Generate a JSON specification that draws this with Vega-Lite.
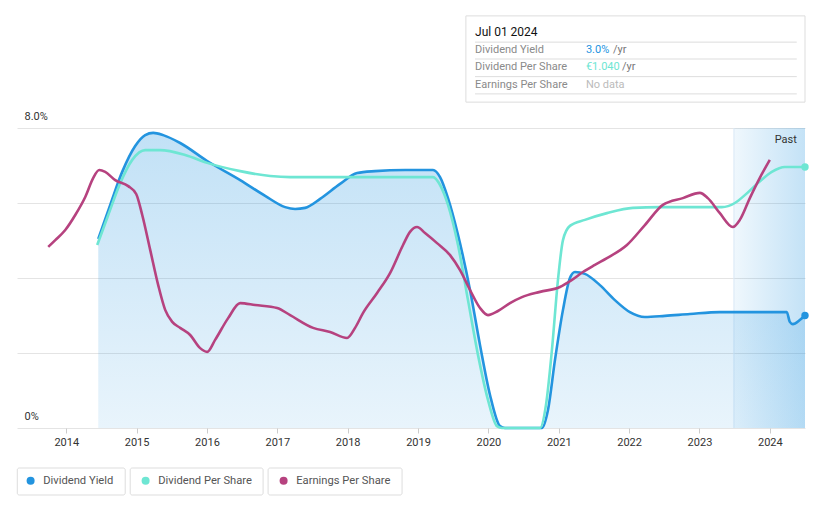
{
  "$schema": "https://vega.github.io/schema/vega-lite/v6.json",
  "width": 788,
  "height": 300,
  "autosize": {"type": "none"},
  "padding": {"left": 17, "top": 128, "right": 16, "bottom": 80},
  "background": "white",
  "config": {
    "font": "Roboto",
    "view": {"stroke": null},
    "axis": {"labelFont": "Roboto", "titleFont": "Roboto"},
    "legend": {"labelFont": "Roboto"}
  },
  "datasets": {
    "series": [
      {"s": "Dividend Yield", "year": 2014.455, "value": 5.04},
      {"s": "Dividend Yield", "year": 2014.625, "value": 5.95},
      {"s": "Dividend Yield", "year": 2014.795, "value": 6.83},
      {"s": "Dividend Yield", "year": 2014.98, "value": 7.52},
      {"s": "Dividend Yield", "year": 2015.122, "value": 7.81},
      {"s": "Dividend Yield", "year": 2015.236, "value": 7.87},
      {"s": "Dividend Yield", "year": 2015.378, "value": 7.81},
      {"s": "Dividend Yield", "year": 2015.619, "value": 7.6},
      {"s": "Dividend Yield", "year": 2016.003, "value": 7.12},
      {"s": "Dividend Yield", "year": 2016.472, "value": 6.61},
      {"s": "Dividend Yield", "year": 2016.827, "value": 6.19},
      {"s": "Dividend Yield", "year": 2017.111, "value": 5.89},
      {"s": "Dividend Yield", "year": 2017.253, "value": 5.84},
      {"s": "Dividend Yield", "year": 2017.395, "value": 5.87},
      {"s": "Dividend Yield", "year": 2017.608, "value": 6.11},
      {"s": "Dividend Yield", "year": 2017.892, "value": 6.51},
      {"s": "Dividend Yield", "year": 2018.134, "value": 6.8},
      {"s": "Dividend Yield", "year": 2018.389, "value": 6.85},
      {"s": "Dividend Yield", "year": 2018.815, "value": 6.88},
      {"s": "Dividend Yield", "year": 2019.213, "value": 6.88},
      {"s": "Dividend Yield", "year": 2019.313, "value": 6.69},
      {"s": "Dividend Yield", "year": 2019.426, "value": 6.13},
      {"s": "Dividend Yield", "year": 2019.568, "value": 5.15},
      {"s": "Dividend Yield", "year": 2019.739, "value": 3.68},
      {"s": "Dividend Yield", "year": 2019.881, "value": 2.21},
      {"s": "Dividend Yield", "year": 2020.023, "value": 0.88},
      {"s": "Dividend Yield", "year": 2020.165, "value": 0.05},
      {"s": "Dividend Yield", "year": 2020.236, "value": 0},
      {"s": "Dividend Yield", "year": 2020.761, "value": 0},
      {"s": "Dividend Yield", "year": 2020.847, "value": 0.48},
      {"s": "Dividend Yield", "year": 2020.946, "value": 1.81},
      {"s": "Dividend Yield", "year": 2021.06, "value": 3.15},
      {"s": "Dividend Yield", "year": 2021.159, "value": 4.0},
      {"s": "Dividend Yield", "year": 2021.23, "value": 4.16},
      {"s": "Dividend Yield", "year": 2021.372, "value": 4.11},
      {"s": "Dividend Yield", "year": 2021.585, "value": 3.81},
      {"s": "Dividend Yield", "year": 2021.798, "value": 3.41},
      {"s": "Dividend Yield", "year": 2022.011, "value": 3.09},
      {"s": "Dividend Yield", "year": 2022.224, "value": 2.96},
      {"s": "Dividend Yield", "year": 2022.509, "value": 2.99},
      {"s": "Dividend Yield", "year": 2022.864, "value": 3.04},
      {"s": "Dividend Yield", "year": 2023.29, "value": 3.09},
      {"s": "Dividend Yield", "year": 2023.858, "value": 3.09},
      {"s": "Dividend Yield", "year": 2024.241, "value": 3.09},
      {"s": "Dividend Yield", "year": 2024.284, "value": 2.83},
      {"s": "Dividend Yield", "year": 2024.327, "value": 2.77},
      {"s": "Dividend Yield", "year": 2024.426, "value": 2.88},
      {"s": "Dividend Yield", "year": 2024.5, "value": 3.0},
      {"s": "Dividend Per Share", "year": 2014.44, "value": 4.88},
      {"s": "Dividend Per Share", "year": 2014.597, "value": 5.68},
      {"s": "Dividend Per Share", "year": 2014.767, "value": 6.53},
      {"s": "Dividend Per Share", "year": 2014.938, "value": 7.15},
      {"s": "Dividend Per Share", "year": 2015.122, "value": 7.41},
      {"s": "Dividend Per Share", "year": 2015.335, "value": 7.41},
      {"s": "Dividend Per Share", "year": 2015.69, "value": 7.28},
      {"s": "Dividend Per Share", "year": 2016.003, "value": 7.07},
      {"s": "Dividend Per Share", "year": 2016.472, "value": 6.85},
      {"s": "Dividend Per Share", "year": 2016.898, "value": 6.72},
      {"s": "Dividend Per Share", "year": 2017.182, "value": 6.69},
      {"s": "Dividend Per Share", "year": 2018.034, "value": 6.69},
      {"s": "Dividend Per Share", "year": 2019.213, "value": 6.69},
      {"s": "Dividend Per Share", "year": 2019.313, "value": 6.48},
      {"s": "Dividend Per Share", "year": 2019.426, "value": 5.95},
      {"s": "Dividend Per Share", "year": 2019.568, "value": 4.88},
      {"s": "Dividend Per Share", "year": 2019.71, "value": 3.41},
      {"s": "Dividend Per Share", "year": 2019.852, "value": 1.95},
      {"s": "Dividend Per Share", "year": 2019.994, "value": 0.75},
      {"s": "Dividend Per Share", "year": 2020.122, "value": 0.05},
      {"s": "Dividend Per Share", "year": 2020.193, "value": 0},
      {"s": "Dividend Per Share", "year": 2020.733, "value": 0},
      {"s": "Dividend Per Share", "year": 2020.818, "value": 0.61},
      {"s": "Dividend Per Share", "year": 2020.903, "value": 2.08},
      {"s": "Dividend Per Share", "year": 2020.989, "value": 3.95},
      {"s": "Dividend Per Share", "year": 2021.06, "value": 5.01},
      {"s": "Dividend Per Share", "year": 2021.159, "value": 5.39},
      {"s": "Dividend Per Share", "year": 2021.372, "value": 5.55},
      {"s": "Dividend Per Share", "year": 2021.685, "value": 5.73},
      {"s": "Dividend Per Share", "year": 2022.054, "value": 5.87},
      {"s": "Dividend Per Share", "year": 2022.438, "value": 5.89},
      {"s": "Dividend Per Share", "year": 2023.006, "value": 5.89},
      {"s": "Dividend Per Share", "year": 2023.318, "value": 5.89},
      {"s": "Dividend Per Share", "year": 2023.503, "value": 6.0},
      {"s": "Dividend Per Share", "year": 2023.645, "value": 6.21},
      {"s": "Dividend Per Share", "year": 2023.83, "value": 6.53},
      {"s": "Dividend Per Share", "year": 2024.028, "value": 6.83},
      {"s": "Dividend Per Share", "year": 2024.213, "value": 6.96},
      {"s": "Dividend Per Share", "year": 2024.355, "value": 6.96},
      {"s": "Dividend Per Share", "year": 2024.5, "value": 6.96},
      {"s": "Earnings Per Share", "year": 2013.744, "value": 4.83},
      {"s": "Earnings Per Share", "year": 2013.844, "value": 5.01},
      {"s": "Earnings Per Share", "year": 2013.986, "value": 5.28},
      {"s": "Earnings Per Share", "year": 2014.128, "value": 5.68},
      {"s": "Earnings Per Share", "year": 2014.27, "value": 6.16},
      {"s": "Earnings Per Share", "year": 2014.384, "value": 6.67},
      {"s": "Earnings Per Share", "year": 2014.469, "value": 6.88},
      {"s": "Earnings Per Share", "year": 2014.554, "value": 6.83},
      {"s": "Earnings Per Share", "year": 2014.696, "value": 6.61},
      {"s": "Earnings Per Share", "year": 2014.881, "value": 6.45},
      {"s": "Earnings Per Share", "year": 2014.994, "value": 6.24},
      {"s": "Earnings Per Share", "year": 2015.08, "value": 5.68},
      {"s": "Earnings Per Share", "year": 2015.193, "value": 4.75},
      {"s": "Earnings Per Share", "year": 2015.307, "value": 3.81},
      {"s": "Earnings Per Share", "year": 2015.406, "value": 3.15},
      {"s": "Earnings Per Share", "year": 2015.506, "value": 2.83},
      {"s": "Earnings Per Share", "year": 2015.619, "value": 2.67},
      {"s": "Earnings Per Share", "year": 2015.761, "value": 2.48},
      {"s": "Earnings Per Share", "year": 2015.903, "value": 2.13},
      {"s": "Earnings Per Share", "year": 2016.003, "value": 2.03},
      {"s": "Earnings Per Share", "year": 2016.116, "value": 2.35},
      {"s": "Earnings Per Share", "year": 2016.301, "value": 2.93},
      {"s": "Earnings Per Share", "year": 2016.472, "value": 3.33},
      {"s": "Earnings Per Share", "year": 2016.685, "value": 3.28},
      {"s": "Earnings Per Share", "year": 2016.997, "value": 3.2},
      {"s": "Earnings Per Share", "year": 2017.182, "value": 3.01},
      {"s": "Earnings Per Share", "year": 2017.509, "value": 2.67},
      {"s": "Earnings Per Share", "year": 2017.75, "value": 2.56},
      {"s": "Earnings Per Share", "year": 2017.991, "value": 2.4},
      {"s": "Earnings Per Share", "year": 2018.105, "value": 2.67},
      {"s": "Earnings Per Share", "year": 2018.219, "value": 3.07},
      {"s": "Earnings Per Share", "year": 2018.418, "value": 3.6},
      {"s": "Earnings Per Share", "year": 2018.602, "value": 4.13},
      {"s": "Earnings Per Share", "year": 2018.787, "value": 4.88},
      {"s": "Earnings Per Share", "year": 2018.886, "value": 5.23},
      {"s": "Earnings Per Share", "year": 2018.986, "value": 5.36},
      {"s": "Earnings Per Share", "year": 2019.099, "value": 5.2},
      {"s": "Earnings Per Share", "year": 2019.27, "value": 4.93},
      {"s": "Earnings Per Share", "year": 2019.455, "value": 4.61},
      {"s": "Earnings Per Share", "year": 2019.597, "value": 4.21},
      {"s": "Earnings Per Share", "year": 2019.739, "value": 3.68},
      {"s": "Earnings Per Share", "year": 2019.881, "value": 3.2},
      {"s": "Earnings Per Share", "year": 2019.994, "value": 3.01},
      {"s": "Earnings Per Share", "year": 2020.136, "value": 3.12},
      {"s": "Earnings Per Share", "year": 2020.307, "value": 3.33},
      {"s": "Earnings Per Share", "year": 2020.477, "value": 3.49},
      {"s": "Earnings Per Share", "year": 2020.733, "value": 3.63},
      {"s": "Earnings Per Share", "year": 2021.017, "value": 3.76},
      {"s": "Earnings Per Share", "year": 2021.188, "value": 3.95},
      {"s": "Earnings Per Share", "year": 2021.344, "value": 4.16},
      {"s": "Earnings Per Share", "year": 2021.514, "value": 4.35},
      {"s": "Earnings Per Share", "year": 2021.685, "value": 4.53},
      {"s": "Earnings Per Share", "year": 2021.969, "value": 4.88},
      {"s": "Earnings Per Share", "year": 2022.224, "value": 5.41},
      {"s": "Earnings Per Share", "year": 2022.48, "value": 5.95},
      {"s": "Earnings Per Share", "year": 2022.764, "value": 6.13},
      {"s": "Earnings Per Share", "year": 2023.006, "value": 6.27},
      {"s": "Earnings Per Share", "year": 2023.119, "value": 6.13},
      {"s": "Earnings Per Share", "year": 2023.29, "value": 5.73},
      {"s": "Earnings Per Share", "year": 2023.474, "value": 5.36},
      {"s": "Earnings Per Share", "year": 2023.574, "value": 5.55},
      {"s": "Earnings Per Share", "year": 2023.716, "value": 6.13},
      {"s": "Earnings Per Share", "year": 2023.858, "value": 6.67},
      {"s": "Earnings Per Share", "year": 2024.0, "value": 7.15}
    ]
  },
  "layer": [
    {
      "data": {"values": [{}]},
      "mark": {"type": "rect", "color": {"gradient": "linear", "x1": 0, "y1": 0, "x2": 1, "y2": 0, "stops": [{"offset": 0, "color": "rgba(35,148,223,0.07)"}, {"offset": 1, "color": "rgba(35,148,223,0.27)"}]}},
      "encoding": {
        "x": {"datum": 2023.49, "type": "quantitative", "title": null},
        "x2": {"datum": 2024.5},
        "y": {"datum": 0, "type": "quantitative", "title": null},
        "y2": {"datum": 8}
      }
    },
    {
      "data": {"values": [{}]},
      "mark": {"type": "rule", "color": "#d8e8f6", "strokeWidth": 1},
      "encoding": {
        "x": {"datum": 2023.49, "type": "quantitative", "title": null},
        "y": {"datum": 0, "type": "quantitative", "title": null},
        "y2": {"datum": 8}
      }
    },
    {
      "data": {"name": "series"},
      "transform": [{"filter": "datum.s === 'Dividend Yield'"}],
      "mark": {"type": "area", "interpolate": "monotone", "color": {"gradient": "linear", "x1": 0, "y1": 0, "x2": 0, "y2": 1, "stops": [{"offset": 0, "color": "rgba(35,148,223,0.28)"}, {"offset": 1, "color": "rgba(35,148,223,0.1)"}]}},
      "encoding": {
        "x": {"field": "year", "type": "quantitative", "title": null},
        "y": {"field": "value", "type": "quantitative", "title": null},
        "y2": {"datum": 0}
      }
    },
    {
      "data": {"name": "series"},
      "mark": {"type": "line", "interpolate": "monotone", "strokeWidth": 2.6},
      "encoding": {
        "x": {
          "field": "year", "type": "quantitative", "title": null,
          "scale": {"domain": [2013.3, 2024.5], "nice": false, "zero": false},
          "axis": {"title": null, "values": [2014, 2015, 2016, 2017, 2018, 2019, 2020, 2021, 2022, 2023, 2024], "format": "d", "grid": false, "domain": false, "tickColor": "#cccccc", "tickSize": 5, "labelPadding": 3, "labelFontSize": 11, "labelColor": "#333333"}
        },
        "y": {
          "field": "value", "type": "quantitative", "title": null,
          "scale": {"domain": [0, 8], "nice": false, "zero": true},
          "axis": {"title": null, "values": [0, 2, 4, 6, 8], "grid": true, "gridColor": "#e4e4e4", "domain": false, "ticks": false, "tickSize": 0, "labelAlign": "left", "labelBaseline": "bottom", "labelPadding": -7, "labelOffset": -7, "labelFontSize": 11, "labelColor": "#333333", "labelExpr": "datum.value == 8 ? '8.0%' : (datum.value == 0 ? '0%' : '')"}
        },
        "color": {
          "field": "s", "type": "nominal",
          "scale": {"domain": ["Dividend Yield", "Dividend Per Share", "Earnings Per Share"], "range": ["#2394df", "#6ee6d3", "#b6427f"]},
          "legend": {"title": null, "orient": "none", "direction": "horizontal", "legendX": 8, "legendY": 347, "symbolType": "circle", "symbolSize": 64, "symbolStrokeWidth": 0, "labelFontSize": 11.2, "labelColor": "#555555", "labelOffset": 7, "columnPadding": 26,
            "encode": {"symbols": {"update": {"fill": {"scale": "color", "field": "value"}, "strokeWidth": {"value": 0}}}}}
        }
      }
    },
    {
      "data": {"name": "series"},
      "transform": [{"filter": "datum.year >= 2024.5"}],
      "mark": {"type": "point", "filled": true, "size": 55, "opacity": 1},
      "encoding": {
        "x": {"field": "year", "type": "quantitative", "title": null},
        "y": {"field": "value", "type": "quantitative", "title": null},
        "color": {"field": "s", "type": "nominal", "legend": null}
      }
    },
    {
      "data": {"values": [{}]},
      "mark": {"type": "text", "text": "Past", "align": "right", "baseline": "middle", "fontSize": 11, "color": "#333333"},
      "encoding": {
        "x": {"datum": 2024.383, "type": "quantitative", "title": null},
        "y": {"datum": 7.68, "type": "quantitative", "title": null}
      }
    },
    {
      "data": {"values": [{}]},
      "mark": {"type": "rect", "fill": "white", "stroke": "#dddddd", "strokeWidth": 1},
      "encoding": {
        "x": {"datum": 2019.68, "type": "quantitative", "title": null},
        "x2": {"datum": 2024.5},
        "y": {"datum": 10.99, "type": "quantitative", "title": null},
        "y2": {"datum": 8.69}
      }
    },
    {
      "data": {"values": [{"r": 10.29}, {"r": 9.84}, {"r": 9.37}, {"r": 8.91}]},
      "mark": {"type": "rule", "color": "#dddddd", "strokeWidth": 1},
      "encoding": {
        "x": {"datum": 2019.81, "type": "quantitative", "title": null},
        "x2": {"datum": 2024.383},
        "y": {"field": "r", "type": "quantitative", "title": null}
      }
    },
    {
      "data": {"values": [{}]},
      "mark": {"type": "text", "text": "Jul 01 2024", "align": "left", "baseline": "middle", "fontSize": 12, "fontWeight": 400, "color": "#111111"},
      "encoding": {
        "x": {"datum": 2019.81, "type": "quantitative", "title": null},
        "y": {"datum": 10.56, "type": "quantitative", "title": null}
      }
    },
    {
      "data": {"values": [{"t": "Dividend Yield", "r": 10.08}, {"t": "Dividend Per Share", "r": 9.63}, {"t": "Earnings Per Share", "r": 9.15}]},
      "mark": {"type": "text", "align": "left", "baseline": "middle", "fontSize": 11, "color": "#8a8a8a"},
      "encoding": {
        "x": {"datum": 2019.81, "type": "quantitative", "title": null},
        "y": {"field": "r", "type": "quantitative", "title": null},
        "text": {"field": "t"}
      }
    },
    {
      "data": {"values": [{}]},
      "mark": {"type": "text", "text": "3.0%", "align": "left", "baseline": "middle", "fontSize": 11, "color": "#2394df"},
      "encoding": {
        "x": {"datum": 2021.386, "type": "quantitative", "title": null},
        "y": {"datum": 10.08, "type": "quantitative", "title": null}
      }
    },
    {
      "data": {"values": [{}]},
      "mark": {"type": "text", "text": "/yr", "align": "left", "baseline": "middle", "fontSize": 11, "color": "#777777"},
      "encoding": {
        "x": {"datum": 2021.77, "type": "quantitative", "title": null},
        "y": {"datum": 10.08, "type": "quantitative", "title": null}
      }
    },
    {
      "data": {"values": [{}]},
      "mark": {"type": "text", "text": "€1.040", "align": "left", "baseline": "middle", "fontSize": 11, "color": "#6ee6d3"},
      "encoding": {
        "x": {"datum": 2021.386, "type": "quantitative", "title": null},
        "y": {"datum": 9.63, "type": "quantitative", "title": null}
      }
    },
    {
      "data": {"values": [{}]},
      "mark": {"type": "text", "text": "/yr", "align": "left", "baseline": "middle", "fontSize": 11, "color": "#777777"},
      "encoding": {
        "x": {"datum": 2021.898, "type": "quantitative", "title": null},
        "y": {"datum": 9.63, "type": "quantitative", "title": null}
      }
    },
    {
      "data": {"values": [{}]},
      "mark": {"type": "text", "text": "No data", "align": "left", "baseline": "middle", "fontSize": 11, "color": "#bbbbbb"},
      "encoding": {
        "x": {"datum": 2021.386, "type": "quantitative", "title": null},
        "y": {"datum": 9.15, "type": "quantitative", "title": null}
      }
    },
    {
      "data": {"values": [{"a": 2013.304, "b": 2014.838}, {"a": 2014.909, "b": 2016.798}, {"a": 2016.869, "b": 2018.773}]},
      "mark": {"type": "rect", "fill": null, "fillOpacity": 0, "stroke": "#dddddd", "strokeWidth": 1, "cornerRadius": 2},
      "encoding": {
        "x": {"field": "a", "type": "quantitative", "title": null},
        "x2": {"field": "b"},
        "y": {"datum": -1.067, "type": "quantitative", "title": null},
        "y2": {"datum": -1.787}
      }
    }
  ]
}
